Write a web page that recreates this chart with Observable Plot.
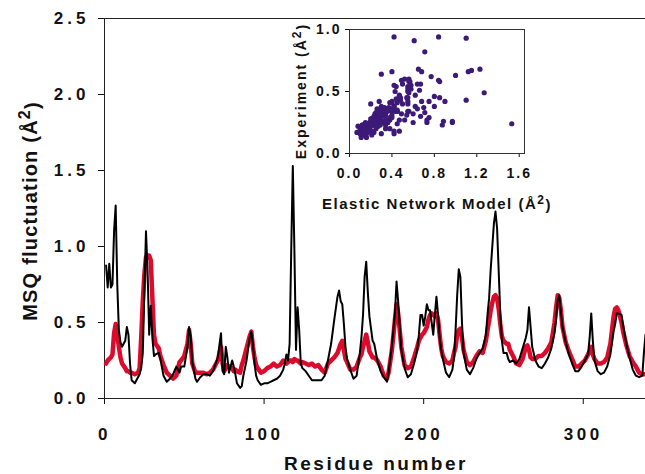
<!DOCTYPE html>
<html><head><meta charset="utf-8">
<script src="https://cdn.jsdelivr.net/npm/d3@7"></script>
<script src="https://cdn.jsdelivr.net/npm/@observablehq/plot@0.6"></script>
<style>
body{margin:0;background:#fff;}
#wrap{position:relative;width:645px;height:474px;overflow:hidden;}
#wrap svg{position:absolute;}
#main g[aria-label="y-axis tick label"] text{letter-spacing:4px;}
#main g[aria-label="x-axis tick label"] text{letter-spacing:3.5px;}
#inset g[aria-label$="tick label"] text{letter-spacing:2px;}
</style></head><body><div id="wrap"></div>
<script>
// Residue numbers sampled from the trace
const residue = [
1,2,3,4,5,6,7,8,9,10,
11,13,14,15,16,17,19,21,22,23,
24,25,26,27,28,29,30,31,32,34,
35,37,39,41,43,45,47,48,50,52,
53,54,55,57,58,60,62,64,66,68,
70,71,73,74,75,76,77,78,80,81,
82,83,85,86,87,89,91,92,93,94,
95,96,98,100,102,104,106,108,110,112,
113,114,115,116,117,118,119,120,121,122,
123,124,126,128,130,132,134,136,138,140,
142,144,146,147,148,149,150,151,152,154,
156,158,160,161,162,163,164,165,166,168,
169,171,173,175,177,178,180,181,182,183,
184,185,186,188,190,192,194,196,197,198,
199,200,201,202,203,204,205,206,207,208,
209,210,211,212,214,216,218,219,220,221,
222,223,224,225,227,229,231,233,235,237,
239,240,241,242,243,244,245,246,247,248,
249,250,252,253,254,256,258,260,262,264,
265,266,267,268,270,272,274,276,278,280,
282,283,284,285,286,287,289,291,293,295,
297,299,301,303,304,305,306,307,309,311,
313,315,317,319,320,321,322,324,325,327,
329,331,333,335,337,338,339];

// Elastic Network Model (black line)
const enm = [
.875,.73,.886,.73,.75,1.1,1.27,.75,.45,.37,
.34,.38,.47,.42,.23,.12,.10,.14,.16,.20,
.30,.71,1.10,.84,.42,.61,.40,.28,.29,.30,
.26,.15,.11,.13,.16,.21,.17,.21,.21,.34,
.47,.41,.24,.13,.11,.14,.16,.16,.15,.18,
.24,.27,.43,.18,.16,.34,.27,.17,.25,.21,
.16,.10,.07,.08,.15,.25,.40,.44,.36,.23,
.15,.12,.09,.10,.10,.11,.12,.13,.15,.19,
.23,.29,.25,.36,.97,1.53,.97,.32,.60,.45,
.23,.20,.18,.15,.12,.12,.12,.12,.15,.25,
.36,.52,.67,.71,.64,.62,.49,.34,.26,.19,
.13,.15,.30,.40,.55,.80,.90,.70,.54,.38,
.36,.25,.18,.14,.11,.17,.34,.45,.56,.77,
.64,.48,.32,.20,.14,.16,.23,.32,.42,.55,
.55,.48,.54,.62,.58,.58,.50,.42,.55,.67,
.55,.40,.32,.26,.17,.14,.19,.27,.45,.68,
.85,.80,.50,.30,.19,.16,.20,.26,.30,.33,
.42,.55,.66,.85,1.00,1.15,1.23,1.12,.84,.56,
.38,.30,.30,.26,.24,.25,.23,.26,.33,.40,
.45,.60,.47,.34,.25,.21,.20,.23,.27,.33,
.43,.52,.65,.68,.57,.47,.37,.29,.23,.18,
.18,.21,.25,.29,.40,.56,.38,.25,.18,.16,
.17,.21,.29,.44,.49,.56,.56,.55,.48,.36,
.27,.19,.15,.14,.15,.30,.42];

// Experiment (red line)
const experiment = [
.23,.25,.26,.27,.29,.43,.49,.42,.34,.27,
.23,.20,.18,.18,.17,.17,.16,.17,.20,.40,
.64,.82,.93,.94,.94,.91,.66,.42,.36,.33,
.28,.22,.17,.15,.13,.15,.24,.25,.28,.36,
.45,.36,.23,.17,.17,.17,.17,.16,.17,.19,
.23,.25,.34,.23,.18,.20,.22,.21,.20,.18,
.19,.18,.17,.22,.25,.33,.41,.44,.34,.27,
.22,.20,.17,.18,.20,.21,.23,.21,.22,.25,
.24,.23,.24,.25,.25,.24,.26,.25,.25,.24,
.23,.24,.23,.22,.23,.21,.22,.19,.17,.23,
.25,.27,.30,.33,.36,.38,.32,.26,.24,.19,
.19,.21,.27,.29,.34,.38,.42,.37,.31,.27,
.27,.25,.21,.15,.13,.17,.31,.41,.52,.62,
.56,.45,.34,.22,.20,.21,.27,.34,.38,.40,
.42,.43,.45,.47,.52,.55,.56,.55,.54,.56,
.52,.42,.33,.28,.24,.23,.25,.30,.34,.42,
.45,.46,.40,.32,.24,.22,.24,.28,.31,.30,
.38,.45,.51,.58,.63,.67,.68,.66,.59,.49,
.41,.38,.36,.36,.32,.28,.23,.22,.26,.34,
.35,.32,.27,.26,.26,.28,.28,.30,.33,.37,
.50,.60,.68,.66,.58,.47,.37,.31,.26,.21,
.21,.23,.25,.29,.31,.34,.29,.26,.23,.23,
.24,.27,.36,.54,.59,.60,.58,.50,.44,.35,
.28,.24,.21,.17,.16,.16,.16];

const xTicks = [0, 100, 200, 300];
const yTicks = [0, 0.5, 1, 1.5, 2, 2.5];
const insetXTicks = [0, 0.4, 0.8, 1.2, 1.6];
const insetYTicks = [0, 0.5, 1];

const n = Math.min(residue.length, enm.length, experiment.length);
const rows = [];
for (let i = 0; i < n; i++) rows.push({residue: residue[i], enm: enm[i], experiment: experiment[i]});

const font = '"Liberation Sans", Arial, Helvetica, sans-serif';
const fmt = d3.format(".1f");
const wrap = document.getElementById("wrap");

const main = Plot.plot({
  width: 645, height: 474,
  marginLeft: 104, marginRight: 0, marginTop: 18, marginBottom: 76,
  style: {fontFamily: font, fontSize: "17px", fontWeight: "bold", background: "transparent", color: "#111", overflow: "visible"},
  x: {domain: [0, 339], ticks: xTicks, tickFormat: d => String(d), tickSize: 6, tickPadding: 23, label: null},
  y: {domain: [0, 2.5], ticks: yTicks, tickFormat: fmt, tickSize: 6, tickPadding: 9, label: null},
  marks: [
    Plot.ruleY([2.5], {stroke: "#222"}),
    Plot.ruleY([0], {stroke: "#222"}),
    Plot.ruleX([0], {stroke: "#222"}),
    Plot.line(rows, {x: "residue", y: "experiment", stroke: "#de0a2c", strokeWidth: 4.5}),
    Plot.line(rows, {x: "residue", y: "enm", stroke: "#000", strokeWidth: 2})
  ]
});
main.id = "main";
main.style.left = "0px"; main.style.top = "0px";
wrap.appendChild(main);

const ms = d3.select(main);
ms.append("text")
  .attr("x", 376).attr("y", 470)
  .attr("text-anchor", "middle")
  .attr("font-family", font).attr("font-weight", "bold").attr("font-size", 19)
  .style("letter-spacing", "2.5px").attr("fill", "#111")
  .text("Residue number");
const yl = ms.append("text")
  .attr("transform", "translate(37,211) rotate(-90)")
  .attr("text-anchor", "middle")
  .attr("font-family", font).attr("font-weight", "bold").attr("font-size", 20)
  .style("letter-spacing", "1.2px").attr("fill", "#111");
yl.append("tspan").text("MSQ fluctuation (Å");
yl.append("tspan").attr("dy", "-0.45em").attr("font-size", 16).text("2");
yl.append("tspan").attr("dy", "0.45em").text(")");

const inset = Plot.plot({
  width: 260, height: 210,
  marginLeft: 79, marginRight: 6, marginTop: 19, marginBottom: 67,
  style: {fontFamily: font, fontSize: "14px", fontWeight: "bold", background: "transparent", color: "#111", overflow: "visible"},
  x: {domain: [0, 1.65], ticks: insetXTicks, tickFormat: fmt, tickSize: 4, tickPadding: 11, label: null},
  y: {domain: [0, 1], ticks: insetYTicks, tickFormat: fmt, tickSize: 4, tickPadding: 4, label: null},
  marks: [
    Plot.frame({stroke: "#333"}),
    Plot.dot(rows, {x: "enm", y: "experiment", r: 2.6, fill: "#3d1a78", stroke: "none"})
  ]
});
inset.id = "inset";
inset.style.left = "270px"; inset.style.top = "10px";
wrap.appendChild(inset);

const is = d3.select(inset);
const ix = is.append("text")
  .attr("x", 167).attr("y", 199)
  .attr("text-anchor", "middle")
  .attr("font-family", font).attr("font-weight", "bold").attr("font-size", 15)
  .style("letter-spacing", "1.5px").attr("fill", "#111");
ix.append("tspan").text("Elastic Network Model (Å");
ix.append("tspan").attr("dy", "-0.45em").attr("font-size", 12).text("2");
ix.append("tspan").attr("dy", "0.45em").text(")");
const iy = is.append("text")
  .attr("transform", "translate(36,81) rotate(-90)")
  .attr("text-anchor", "middle")
  .attr("font-family", font).attr("font-weight", "bold").attr("font-size", 14)
  .style("letter-spacing", "2px").attr("fill", "#111");
iy.append("tspan").text("Experiment (Å");
iy.append("tspan").attr("dy", "-0.45em").attr("font-size", 12).text("2");
iy.append("tspan").attr("dy", "0.45em").text(")");
</script>
</body></html>
